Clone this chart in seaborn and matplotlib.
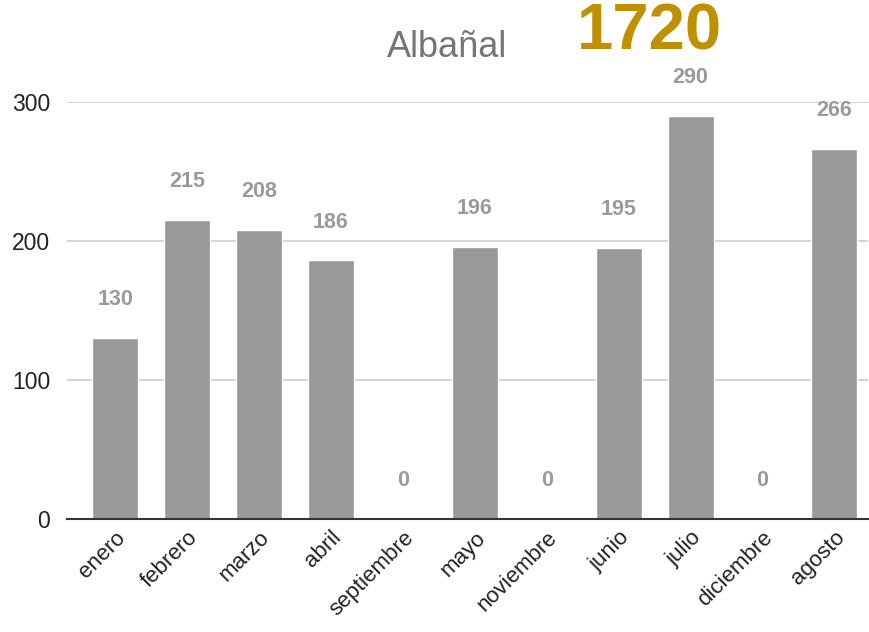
import pandas as pd
import matplotlib.pyplot as plt
import seaborn as sns

sns.set_theme(style="white")
plt.rcParams["font.family"] = ["Liberation Sans", "DejaVu Sans"]

meses = ["enero", "febrero", "marzo", "abril", "septiembre", "mayo",
         "noviembre", "junio", "julio", "diciembre", "agosto"]
valores = [130, 215, 208, 186, 0, 196, 0, 195, 290, 0, 266]
total = 1720

df = pd.DataFrame({"mes": meses, "valor": valores})

fig = plt.figure(figsize=(8.7, 6.32), dpi=100)
ax = fig.add_axes([0.077, 0.179, 0.921, 0.6596])

sns.barplot(data=df, x="mes", y="valor", color="#999999", width=0.64,
            saturation=1, ax=ax, zorder=2)

# value labels above each bar
for i, v in enumerate(valores):
    ax.annotate(str(v), (i, v), xytext=(0, 20), textcoords="offset points",
                ha="center", va="bottom", fontsize=15.5, fontweight="bold",
                color="#9a9a9a", clip_on=False)

ax.set_ylim(0, 300)
ax.set_xlim(-0.67, 10.47)
ax.set_yticks([0, 100, 200, 300])
ax.yaxis.grid(True, color="#cccccc", linewidth=1.2, zorder=0)
ax.set_axisbelow(True)
for s in ["top", "right", "left"]:
    ax.spines[s].set_visible(False)
ax.spines["bottom"].set_color("#333333")
ax.spines["bottom"].set_linewidth(1.5)
ax.spines["bottom"].set_zorder(3)
ax.set_xlabel("")
ax.set_ylabel("")
ax.tick_params(axis="y", length=0, labelsize=16.5, labelcolor="#222222", pad=12)
ax.tick_params(axis="x", length=0, labelsize=16, labelcolor="#222222", pad=6)
plt.setp(ax.get_xticklabels(), rotation=45, ha="right", rotation_mode="anchor")

fig.text(0.514, 0.925, "Albañal", ha="center", va="center", fontsize=26,
         color="#757575")
fig.text(0.747, 0.948, str(total), ha="center", va="center", fontsize=47,
         fontweight="bold", color="#bf9000")

fig.savefig("out.png", dpi=100)
